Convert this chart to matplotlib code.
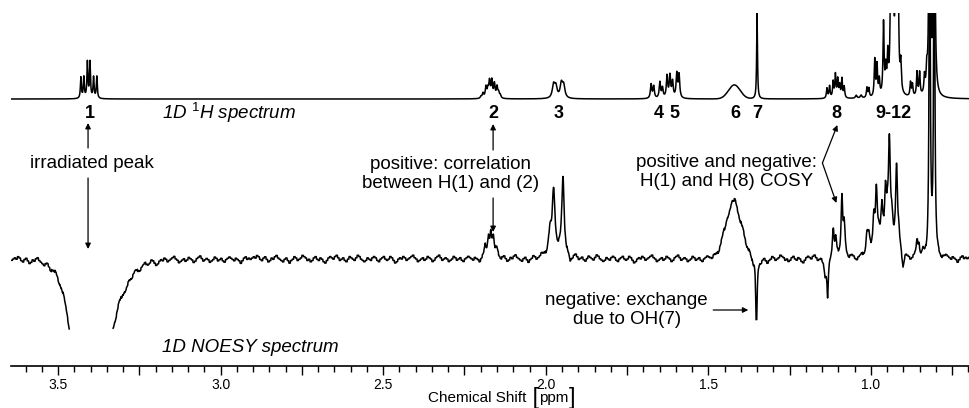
import numpy as np
import matplotlib
matplotlib.use("Agg")
import matplotlib.pyplot as plt
from matplotlib.ticker import MultipleLocator, FuncFormatter

plt.rcParams['font.family'] = ['Liberation Sans', 'DejaVu Sans']
plt.rcParams['mathtext.fontset'] = 'custom'
plt.rcParams['mathtext.rm'] = 'Liberation Sans'
plt.rcParams['mathtext.it'] = 'Liberation Sans:italic'

# --- 1D 1H spectrum: lines (ppm, height, half width) ---
h1_ppm = [3.430, 3.421, 3.410, 3.402, 3.391, 3.381,
          2.199, 2.193, 2.184, 2.178, 2.173, 2.166, 2.158, 2.150, 2.145, 2.140,
          1.976, 1.969, 1.952, 1.945,
          1.676, 1.668, 1.649, 1.641, 1.627, 1.618, 1.610, 1.597, 1.590,
          1.350,
          1.135, 1.127, 1.116, 1.109, 1.102, 1.096, 1.089, 1.082,
          1.045, 1.030,
          1.012, 1.006, 0.988, 0.981, 0.974, 0.961, 0.954, 0.948,
          0.938, 0.932, 0.923, 0.917, 0.908, 0.878, 0.872,
          0.858, 0.850, 0.835, 0.828, 0.819, 0.805]
h1_height = [21, 21, 36, 36, 21, 22,
             2, 5, 11, 8, 16, 17, 14, 11, 5, 3,
             13, 11, 14, 12,
             14, 12, 16, 10, 22, 22, 16, 24, 23,
             86,
             10, 12, 16, 23, 18, 12, 19, 11,
             3, 3,
             10, 9, 37, 31, 16, 72, 24, 36,
             200, 200, 200, 200, 28, 14, 12,
             24, 23, 17, 20, 400, 400]
h1_hw = [0.0018] * 6 + [0.0025] * 10 + [0.0045] * 4 + [0.0025] * 9 + [0.0015] \
    + [0.002] * 8 + [0.003] * 2 + [0.002] * 21
h1_broad_ppm = [1.420]
h1_broad_height = [14]
h1_broad_sigma = [0.018]

# --- 1D NOESY spectrum ---
noesy_ppm = [3.400,
             2.186, 2.176, 2.169, 2.161, 2.150,
             1.987, 1.976, 1.947, 1.925,
             1.425, 1.418,
             1.362, 1.352,
             1.140, 1.133, 1.116, 1.108, 1.089, 1.082,
             1.012, 1.006, 0.991, 0.983, 0.975, 0.966, 0.955, 0.949,
             0.943, 0.935, 0.921, 0.914, 0.901,
             0.858, 0.852, 0.840, 0.819, 0.805]
noesy_height = [-5,
                8, 14, 18, 14, 5,
                25, 60, 80, -8,
                4, 4,
                -8, -72,
                -15, -41, 30, 15, 62, 33,
                20, 14, 34, 56, 10, 34, 50, 18,
                98, 22, 86, 16, -14,
                12, 10, 5, 400, 400]
noesy_hw = [0.15] + [0.003] * 5 + [0.005, 0.005, 0.0045, 0.004] \
    + [0.004, 0.004] + [0.004, 0.0025] + [0.003, 0.0025, 0.003, 0.003, 0.003, 0.003] \
    + [0.0035] * 13 + [0.003] * 3 + [0.002, 0.002]
noesy_broad_ppm = [3.405, 3.330, 2.170, 1.965, 1.422, 0.960]
noesy_broad_height = [-160, -25, 6, 5, 52, 10]
noesy_broad_sigma = [0.045, 0.05, 0.015, 0.02, 0.026, 0.03]
noesy_noise = [0, 1, 2, 1, 3, 2, 0, -1, 1, 2, 0, -2, -1, 1, 0, 2, 3, 1, 0, -1,
               -2, 0, 1, -1, -3, -1, 0, 2, 1, -1, 0, 1, 3, 2, 1, -1, 0, -2, -1, 1,
               2, 0, -1, 1, 0, -2, -3, -1, 1, 2, 1, 0, 2, 3, 1, -1, 0, 1, -1, -2,
               0, 2, 1, 0, -1, 1, 3, 2, 0, -1, -2, -1, 1, 0, -1, 1, 2, 1, -1, -2,
               0, 1, 2, 0, -1, 0, 2, 1, -1, -3, -2, 0, 1, 0, 2, 1, -1, 0, 1, 2,
               3, 1, 0, -2, -1, 0, 1, -1, 0, 2, 1, 0, -2, -1, 1, 2, 3, 1, -1, 0,
               1, 0, -2, -1, 0, 2, 1, -1, 0, 1, -1, -2, 0, 1, 2, 1, 0, -1, 1, 0,
               -1, -3, -1, 1, 2, 0, 1]

peak_labels = ["1", "2", "3", "4", "5", "6", "7", "8", "9-12"]
peak_label_ppm = [3.402, 2.162, 1.961, 1.653, 1.605, 1.417, 1.350, 1.106, 0.930]

H1_BASE = 267
NOESY_BASE = 107
NOESY_FLOOR = 37
NOISE_SCALE = 1.3


def lorentz(x, c, h, w):
    return h * w ** 2 / ((x - c) ** 2 + w ** 2)


def gauss(x, c, h, s):
    return h * np.exp(-0.5 * ((x - c) / s) ** 2)


ppm = np.arange(3.645, 0.695, -0.001)

h1 = np.full_like(ppm, H1_BASE, dtype=float)
for c, h, w in zip(h1_ppm, h1_height, h1_hw):
    h1 += lorentz(ppm, c, h, w)
for c, h, s in zip(h1_broad_ppm, h1_broad_height, h1_broad_sigma):
    h1 += gauss(ppm, c, h, s)

noesy = np.full_like(ppm, NOESY_BASE, dtype=float)
for c, h, w in zip(noesy_ppm, noesy_height, noesy_hw):
    noesy += lorentz(ppm, c, h, w)
for c, h, s in zip(noesy_broad_ppm, noesy_broad_height, noesy_broad_sigma):
    noesy += gauss(ppm, c, h, s)
noesy += NOISE_SCALE * np.resize(np.repeat(noesy_noise, 5), ppm.size)
noesy[noesy < NOESY_FLOOR] = np.nan

fig = plt.figure(figsize=(9.7, 4.08), dpi=100)
ax = fig.add_axes([11 / 970, 42 / 408, 959 / 970, 353 / 408])
ax.plot(ppm, h1, color='black', lw=1.1)
ax.plot(ppm, noesy, color='black', lw=1.1)
ax.set_xlim(3.645, 0.695)
ax.set_ylim(0, 353)

for s in ['top', 'left', 'right']:
    ax.spines[s].set_visible(False)
ax.spines['bottom'].set_linewidth(1.2)
ax.set_yticks([])
ax.xaxis.set_major_locator(MultipleLocator(0.25))
ax.xaxis.set_minor_locator(MultipleLocator(0.05))
ax.xaxis.set_major_formatter(FuncFormatter(
    lambda v, p: f"{v:.1f}" if abs(v * 2 - round(v * 2)) < 1e-6 else ""))
ax.tick_params(which='major', length=6.5, width=1.0, labelsize=10, pad=2)
ax.tick_params(which='minor', length=4, width=1.0)

for lab, x in zip(peak_labels, peak_label_ppm):
    ax.text(x, 253, lab, ha='center', va='center', fontsize=13, fontweight='bold')

ax.text(3.180, 253, r"1D $^{\mathit{1}}$H spectrum", fontsize=13.5, style='italic',
        ha='left', va='center')
ax.text(3.180, 19, "1D NOESY spectrum", fontsize=13.5, style='italic',
        ha='left', va='center')

arrow = dict(arrowstyle='-|>', lw=0.9, color='black', mutation_scale=8,
             shrinkA=0, shrinkB=0)

# irradiated peak
ax.text(3.397, 203, "irradiated peak", fontsize=13.5, ha='center', va='center')
ax.annotate("", xy=(3.408, 243), xytext=(3.408, 218), arrowprops=arrow)
ax.annotate("", xy=(3.408, 117), xytext=(3.408, 188), arrowprops=arrow)

# correlation H(1)-H(2)
ax.text(2.294, 192, "positive: correlation\nbetween H(1) and (2)", fontsize=13.5,
        ha='center', va='center', linespacing=1.15)
ax.annotate("", xy=(2.162, 242), xytext=(2.162, 216), arrowprops=arrow)
ax.annotate("", xy=(2.162, 134), xytext=(2.162, 168), arrowprops=arrow)

# COSY
ax.text(1.445, 194, "positive and negative:\nH(1) and H(8) COSY", fontsize=13.5,
        ha='center', va='center', linespacing=1.08)
ax.annotate("", xy=(1.103, 241), xytext=(1.149, 203), arrowprops=arrow)
ax.annotate("", xy=(1.106, 163), xytext=(1.149, 203), arrowprops=arrow)

# exchange
ax.text(1.751, 56, "negative: exchange\ndue to OH(7)", fontsize=13.5,
        ha='center', va='center', linespacing=1.1)
ax.annotate("", xy=(1.377, 56), xytext=(1.485, 56), arrowprops=arrow)

# axis label with tall brackets
t1 = fig.text(428 / 970, 10 / 408, "Chemical Shift", fontsize=11, ha='left', va='center')
t2 = ax.annotate(" [", xy=(1, 0.5), xycoords=t1, fontsize=17, ha='left', va='center',
                 annotation_clip=False)
t3 = ax.annotate("ppm", xy=(1, 0.5), xycoords=t2, fontsize=11, ha='left', va='center',
                 annotation_clip=False)
ax.annotate("]", xy=(1, 0.5), xycoords=t3, fontsize=17, ha='left', va='center',
            annotation_clip=False)

fig.savefig("out.png", dpi=100)
